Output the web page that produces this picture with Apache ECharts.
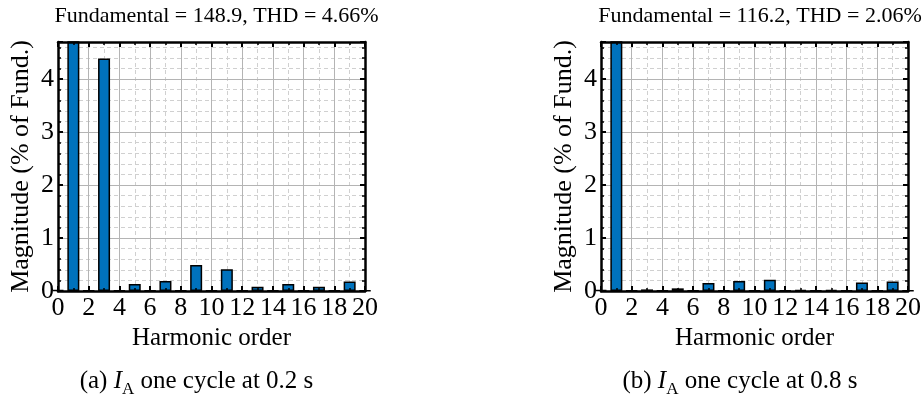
<!DOCTYPE html>
<html>
<head>
<meta charset="utf-8">
<script src="https://cdn.jsdelivr.net/npm/echarts@6/dist/echarts.min.js"></script>
<style>html,body{margin:0;padding:0;background:#fff}#c{width:924px;height:401px}</style>
</head>
<body>
<div id="c"></div>
<script>
const harmonics = [0,1,2,3,4,5,6,7,8,9,10,11,12,13,14,15,16,17,18,19,20];
const magA = [0.02,100,0.01,4.39,0.01,0.13,0.01,0.19,0.01,0.49,0.01,0.41,0.01,0.08,0.01,0.13,0.01,0.08,0.01,0.18,0.01];
const magB = [0.02,100,0.01,0.03,0.01,0.05,0.01,0.15,0.01,0.19,0.01,0.21,0.01,0.02,0.01,0.02,0.01,0.16,0.01,0.18,0.01];
const topTitles = ['Fundamental = 148.9, THD = 4.66%', 'Fundamental = 116.2, THD = 2.06%'];
const captionLetters = ['(a) ', '(b) '];
const captionTimes = [' one cycle at 0.2 s', ' one cycle at 0.8 s'];
const xName = 'Harmonic order';
const yName = 'Magnitude (% of Fund.)';

const FONT = 'Liberation Serif';
const grids = [
  {left: 58, top: 42, width: 307, height: 249},
  {left: 601, top: 42, width: 308, height: 249}
];
const XMIN = 0, XMAX = 20, YMIN = 0, YMAX = 4.7;

const xAxes = [], yAxes = [], series = [], titles = [];
const off = {show: false};
[magA, magB].forEach((mag, g) => {
  const xb = {gridIndex: g, type: 'value', min: XMIN, max: XMAX, interval: 2};
  xAxes.push(Object.assign({}, xb, {
    position: 'bottom', z: 5,
    axisLine: {show: true, onZero: false, lineStyle: {color: '#000', width: 2.5}},
    axisTick: {show: true, inside: true, length: 5, lineStyle: {color: '#000', width: 2}},
    minorTick: {show: true, splitNumber: 2, length: 3, lineStyle: {color: '#000', width: 1.5}},
    axisLabel: {show: true, color: '#000', fontFamily: FONT, fontSize: 26, margin: 4},
    splitLine: off,
    name: xName, nameLocation: 'middle', nameGap: 33,
    nameTextStyle: {color: '#000', fontFamily: FONT, fontSize: 25}
  }));
  xAxes.push(Object.assign({}, xb, {
    position: 'top', z: 5,
    axisLine: {show: true, onZero: false, lineStyle: {color: '#000', width: 2.5}},
    axisTick: {show: true, inside: true, length: 5, lineStyle: {color: '#000', width: 2}},
    minorTick: {show: true, splitNumber: 2, length: 3, lineStyle: {color: '#000', width: 1.5}},
    axisLabel: off, splitLine: off
  }));
  xAxes.push(Object.assign({}, xb, {
    position: 'bottom', z: 0,
    axisLine: {show: false, onZero: false}, axisTick: off, axisLabel: off,
    splitLine: {show: true, lineStyle: {color: '#b4b4b4', width: 1}},
    minorSplitLine: {show: true, lineStyle: {color: '#d0d0d0', width: 1, type: [4, 3]}},
    minorTick: {show: false, splitNumber: 2}
  }));
  const yb = {gridIndex: g, type: 'value', min: YMIN, max: YMAX};
  yAxes.push(Object.assign({}, yb, {
    position: 'left', interval: 1, z: 5,
    axisLine: {show: true, onZero: false, lineStyle: {color: '#000', width: 2.5}},
    axisTick: {show: true, inside: true, length: 5, lineStyle: {color: '#000', width: 2}},
    axisLabel: {show: true, color: '#000', fontFamily: FONT, fontSize: 26, margin: 4,
      formatter: v => (Math.abs(v - Math.round(v)) < 1e-6 ? String(Math.round(v)) : '')},
    splitLine: off,
    name: yName, nameLocation: 'middle', nameGap: 24,
    nameTextStyle: {color: '#000', fontFamily: FONT, fontSize: 26}
  }));
  yAxes.push(Object.assign({}, yb, {
    position: 'left', interval: 0.2, z: 5,
    axisLine: {show: false, onZero: false},
    axisTick: {show: true, inside: true, length: 3, lineStyle: {color: '#000', width: 1.5}},
    axisLabel: off, splitLine: off
  }));
  yAxes.push(Object.assign({}, yb, {
    position: 'right', interval: 1, z: 5,
    axisLine: {show: true, onZero: false, lineStyle: {color: '#000', width: 2.5}},
    axisTick: {show: true, inside: true, length: 5, lineStyle: {color: '#000', width: 2}},
    axisLabel: off, splitLine: off
  }));
  yAxes.push(Object.assign({}, yb, {
    position: 'right', interval: 0.2, z: 5,
    axisLine: {show: false, onZero: false},
    axisTick: {show: true, inside: true, length: 3, lineStyle: {color: '#000', width: 1.5}},
    axisLabel: off, splitLine: off
  }));
  yAxes.push(Object.assign({}, yb, {
    position: 'left', interval: 0.2, z: 0,
    axisLine: {show: false, onZero: false}, axisTick: off, axisLabel: off,
    splitLine: {show: true, lineStyle: {color: '#d0d0d0', width: 1, type: [4, 3]}}
  }));
  yAxes.push(Object.assign({}, yb, {
    position: 'left', interval: 1, z: 1,
    axisLine: {show: false, onZero: false}, axisTick: off, axisLabel: off,
    splitLine: {show: true, lineStyle: {color: '#b4b4b4', width: 1}}
  }));
  series.push({
    type: 'bar', xAxisIndex: 3 * g, yAxisIndex: 6 * g, z: 2, clip: true,
    barWidth: 12,
    itemStyle: {color: '#0072BD', borderColor: '#000', borderWidth: 1.5},
    data: harmonics.map((h, i) => [h, mag[i]])
  });
  const cx = grids[g].left + grids[g].width / 2;
  titles.push({
    text: topTitles[g], left: cx, top: 0, textAlign: 'center',
    textStyle: {color: '#000', fontFamily: FONT, fontSize: 22, fontWeight: 'normal'}
  });
  const base = {color: '#000', fontFamily: FONT, fontWeight: 'normal', lineHeight: 30, verticalAlign: 'bottom'};
  titles.push({
    text: '{n|' + captionLetters[g] + '}{i|I}{s|A}{n|' + captionTimes[g] + '}',
    left: cx - 20, top: 359, textAlign: 'center',
    textStyle: {
      fontWeight: 'normal',
      rich: {
        n: Object.assign({}, base, {fontSize: 25}),
        i: Object.assign({}, base, {fontSize: 25, fontStyle: 'italic'}),
        s: Object.assign({}, base, {fontSize: 17, padding: [0, 0, -4, 0]})
      }
    }
  });
});

const chart = echarts.init(document.getElementById('c'), null, {renderer: 'canvas'});
chart.setOption({
  animation: false,
  backgroundColor: '#fff',
  title: titles,
  grid: grids,
  xAxis: xAxes,
  yAxis: yAxes,
  series: series
});
</script>
</body>
</html>
